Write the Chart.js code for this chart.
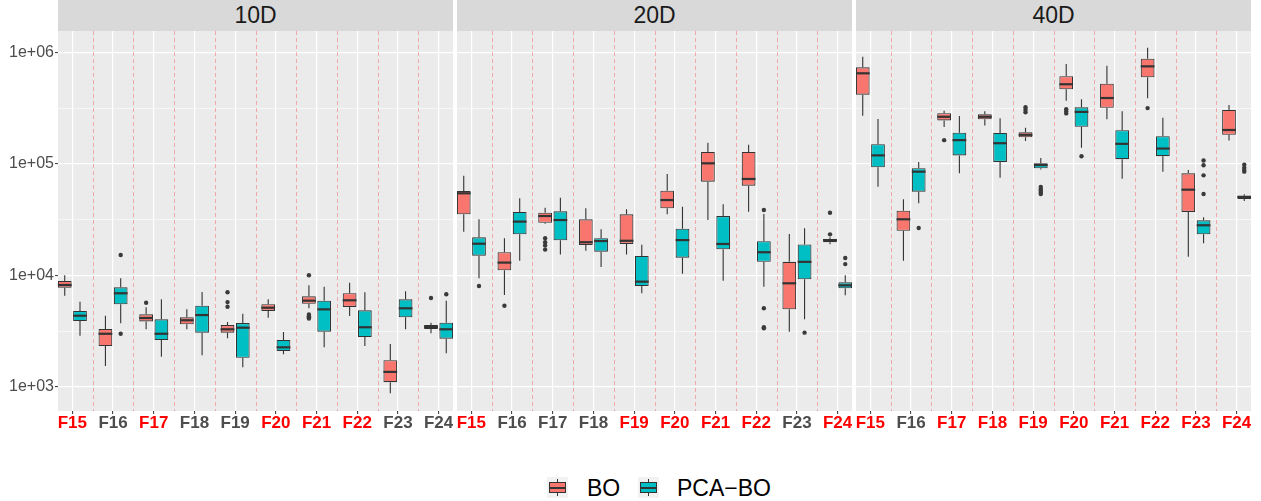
<!DOCTYPE html>
<html><head><meta charset="utf-8">
<script src="https://cdn.jsdelivr.net/npm/chart.js@4/dist/chart.umd.min.js"></script>
<style>
body{margin:0;background:#fff;}
#fig{position:relative;width:1261px;height:501px;overflow:hidden;background:#fff;font-family:"Liberation Sans",Arial,sans-serif;}
.strip{position:absolute;top:0;height:31px;background:#D9D9D9;color:#1A1A1A;font-size:23px;line-height:31px;text-align:center;}
canvas{position:absolute;}
.key{position:absolute;width:21px;height:21px;background:#F2F2F2;}
.key .wh{position:absolute;left:10px;width:1px;top:2px;height:17px;background:#333;}
.key .bx{position:absolute;left:2px;width:15px;top:5px;height:9px;border:1px solid #333;}
.key .md{position:absolute;left:2px;width:17px;top:9.5px;height:2px;background:#333;}
.lab{position:absolute;top:474px;height:28px;line-height:28px;font-size:23px;color:#000;white-space:nowrap;}
</style>
</head>
<body>
<div id="fig">
  <div class="strip" id="s0" style="left:58px;width:395px;"></div>
  <div class="strip" id="s1" style="left:457px;width:395px;"></div>
  <div class="strip" id="s2" style="left:856px;width:395px;"></div>
  <canvas id="c0" width="453" height="400" style="left:0px;top:31px;"></canvas>
  <canvas id="c1" width="395" height="400" style="left:457px;top:31px;"></canvas>
  <canvas id="c2" width="395" height="400" style="left:856px;top:31px;"></canvas>
  <div class="key" style="left:547px;top:477px;"><div class="wh"></div><div class="bx" style="background:#F8766D"></div><div class="md"></div></div>
  <div class="lab" id="l0" style="left:587px;"></div>
  <div class="key" style="left:638px;top:477px;"><div class="wh"></div><div class="bx" style="background:#00BFC4"></div><div class="md"></div></div>
  <div class="lab" id="l1" style="left:677px;"></div>
</div>
<script>
// ---------- data ----------
const categories = ['F15','F16','F17','F18','F19','F20','F21','F22','F23','F24'];
const panelTitles = ['10D','20D','40D'];
const seriesNames = ['BO','PCA\u2212BO'];
const seriesColors = ['#F8766D','#00BFC4'];
const yTickValues = [1e3,1e4,1e5,1e6];
const yTickLabels = ['1e+03','1e+04','1e+05','1e+06'];
const yMinorValues = [3162.28,31622.8,316228];

// label highlight (red) per panel
const highlight10 = [1,0,1,0,0,1,1,1,0,0];
const highlight20 = [1,0,0,0,1,1,1,1,0,1];
const highlight40 = [1,0,1,1,1,1,1,1,1,1];

// box stats: [min whisker, q1, median, q3, max whisker]
const bo10 = [[6560,7740,8190,8890,10000],[1540,2320,2990,3300,4340],[3280,3860,4140,4470,5160],[3280,3640,3950,4200,4950],[2720,3060,3280,3580,3810],[4160,4790,5120,5500,6090],[5060,5560,5920,6480,8130],[4310,5200,5970,6900,8590],[875,1100,1360,1730,2420],[3020,3300,3440,3580,3760]];
const bo10Out = [[],[],[5680],[],[7050,5750,5220],[],[10000,4450,4300,4200,4100],[],[],[6250]];
const pca10 = [[2870,3890,4340,4790,5800],[3710,5500,6900,7800,9400],[1860,2630,2990,4030,6090],[1920,3060,4400,5340,7080],[1500,1820,3390,3730,4530],[1960,2090,2260,2630,3100],[2260,3120,4950,5920,7900],[2320,2790,3420,4850,7050],[3280,4200,5060,6090,7190],[2000,2700,3280,3760,5920]];
const pca10Out = [[],[15200,2990],[],[],[],[],[],[],[],[6760]];

const bo20 = [[24600,35200,54400,57000,78200],[6660,11100,13000,16100,21500],[29000,29600,34000,36400,40400],[16600,18700,19800,31800,39900],[15400,19100,20400,35200,39100],[35200,39900,47300,57400,81100],[31300,69100,101000,127600,154600],[37200,63600,73100,127600,148400],[3120,4950,8480,13200,23500],[19000,19800,20700,21200,21900]];
const bo20Out = [[],[5340],[21500,19800,18500,17000],[],[],[],[],[],[],[36400,23300]];
const pca20 = [[9400,15000,19200,21900,31800],[13500,23300,30300,37000,49100],[15400,20600,31300,37500,49500],[11900,16300,20300,21500,25900],[6900,8020,8770,14900,18800],[10300,14400,20700,26200,41200],[8950,17100,19100,34000,43300],[7900,13200,16100,20200,35500],[4030,9200,13200,18900,26400],[6610,7640,8130,8650,10000]];
const pca20Out = [[8020],[],[],[],[],[],[],[38500,5060,3420,3350],[3060],[14300,12600]];

const bo40 = [[270000,417000,648000,733000,914000],[13500,25100,31800,38000,48000],[214000,245000,264000,284000,299000],[221000,251000,264000,278000,296000],[160000,173000,182000,192000,211000],[368000,466000,517000,610000,785000],[251000,318000,389000,523000,759000],[387000,597000,748000,877000,1100000],[14700,37000,58600,82200,88000],[162000,182000,201000,304000,337000]];
const bo40Out = [[],[],[163000],[],[321000,305000,290000],[309000,295000,283000],[],[316000],[],[]];
const pca40 = [[62300,93000,119000,150000,252000],[44200,56200,85000,91200,104000],[82200,119000,163000,190000,268000],[75000,104000,153000,189000,256000],[89000,91200,97500,101000,113000],[139000,215000,292000,321000,379000],[73500,110000,151000,200000,296000],[85000,117000,137000,177000,259000],[19400,23300,28100,31100,33100],[46400,48300,50500,51800,53200]];
const pca40Out = [[],[26600],[],[],[62000,59000,57000,55000,53500],[117000],[],[],[107000,97000,78800,53600],[98000,92000,88000,85000]];

// ---------- rendering ----------
Chart.defaults.font.family = '"Liberation Sans", Arial, sans-serif';
const Y_MIN = Math.pow(10, 2.783), Y_MAX = Math.pow(10, 6.191);
const LINE = '#333333';

const boxPlugin = {
  id: 'boxDecor',
  beforeDraw(chart) {
    const a = chart.chartArea, ctx = chart.ctx;
    ctx.save(); ctx.fillStyle = '#EBEBEB';
    ctx.fillRect(a.left, a.top, a.right - a.left, a.bottom - a.top);
    ctx.restore();
  },
  beforeDatasetsDraw(chart) {
    const a = chart.chartArea, ctx = chart.ctx, xs = chart.scales.x, ys = chart.scales.y;
    ctx.save();
    ctx.strokeStyle = 'rgba(255,0,0,0.28)'; ctx.lineWidth = 1; ctx.setLineDash([4,3]);
    for (let i = 0; i < categories.length - 1; i++) {
      const px = Math.round(xs.getPixelForValue(i + 0.5)) + 0.5;
      ctx.beginPath(); ctx.moveTo(px, a.top); ctx.lineTo(px, a.bottom); ctx.stroke();
    }
    ctx.setLineDash([]);
    // whiskers
    ctx.strokeStyle = LINE; ctx.lineWidth = 1.1;
    chart.data.datasets.forEach((ds, di) => {
      const meta = chart.getDatasetMeta(di);
      meta.data.forEach((el, i) => {
        const s = ds.stats[i];
        const x = el.x;
        ctx.beginPath();
        ctx.moveTo(x, ys.getPixelForValue(s[4])); ctx.lineTo(x, ys.getPixelForValue(s[3]));
        ctx.moveTo(x, ys.getPixelForValue(s[1])); ctx.lineTo(x, ys.getPixelForValue(s[0]));
        ctx.stroke();
      });
    });
    ctx.restore();
  },
  afterDatasetsDraw(chart) {
    const ctx = chart.ctx, ys = chart.scales.y;
    ctx.save();
    chart.data.datasets.forEach((ds, di) => {
      const meta = chart.getDatasetMeta(di);
      meta.data.forEach((el, i) => {
        const s = ds.stats[i];
        const x = el.x, w = el.width;
        const my = ys.getPixelForValue(s[2]);
        ctx.strokeStyle = LINE; ctx.lineWidth = 2.2;
        ctx.beginPath(); ctx.moveTo(x - w / 2, my); ctx.lineTo(x + w / 2, my); ctx.stroke();
        ctx.fillStyle = '#3a3a3a';
        ds.outliers[i].forEach(v => {
          ctx.beginPath(); ctx.arc(x, ys.getPixelForValue(v), 2.2, 0, Math.PI * 2); ctx.fill();
        });
      });
    });
    ctx.restore();
  }
};

function makePanel(id, boStats, boOut, pcaStats, pcaOut, highlight, showY) {
  const mk = (stats) => stats.map((s, i) => ({ x: i, y: [s[1], s[3]] }));
  new Chart(document.getElementById(id), {
    type: 'bar',
    data: {
      datasets: [
        { label: seriesNames[0], data: mk(boStats), stats: boStats, outliers: boOut,
          backgroundColor: seriesColors[0], borderColor: LINE, borderWidth: 1.1, borderSkipped: false,
          categoryPercentage: 0.75, barPercentage: 0.9 },
        { label: seriesNames[1], data: mk(pcaStats), stats: pcaStats, outliers: pcaOut,
          backgroundColor: seriesColors[1], borderColor: LINE, borderWidth: 1.1, borderSkipped: false,
          categoryPercentage: 0.75, barPercentage: 0.9 }
      ]
    },
    options: {
      responsive: false, animation: false, devicePixelRatio: 1,
      layout: { padding: 0 },
      plugins: { legend: { display: false }, tooltip: { enabled: false }, title: { display: false } },
      scales: {
        x: {
          type: 'linear', min: -0.353, max: 9.353, offset: false,
          afterBuildTicks: s => { s.ticks = categories.map((c, i) => ({ value: i })); },
          afterFit: s => { s.height = 20; s.paddingLeft = 0; s.paddingRight = 0; },
          border: { display: false },
          grid: { offset: false, color: '#FFFFFF', lineWidth: 1.2, drawTicks: true, tickLength: 3, tickColor: LINE, tickWidth: 1 },
          ticks: { autoSkip: false, maxRotation: 0, minRotation: 0, padding: -1,
            font: { size: 17, weight: 'bold' },
            color: ctx => highlight[ctx.index] ? '#FF0000' : '#4D4D4D',
            callback: (v, i) => categories[i] }
        },
        y: {
          type: 'logarithmic', min: Y_MIN, max: Y_MAX,
          afterBuildTicks: s => {
            const t = yTickValues.map(v => ({ value: v, minor: false }))
              .concat(yMinorValues.map(v => ({ value: v, minor: true })));
            t.sort((a, b) => a.value - b.value);
            s.ticks = t;
          },
          afterFit: s => { s.width = showY ? 58 : 0; s.paddingTop = 0; s.paddingBottom = 0; },
          border: { display: false },
          grid: { color: '#FFFFFF',
            lineWidth: ctx => (ctx.tick && ctx.tick.minor) ? 0.6 : 1.2,
            drawTicks: showY, tickLength: 3,
            tickColor: ctx => (ctx.tick && ctx.tick.minor) ? 'rgba(0,0,0,0)' : LINE, tickWidth: 1 },
          ticks: { display: showY, autoSkip: false, padding: 1, font: { size: 16 }, color: '#4D4D4D',
            callback: (v) => { const k = yTickValues.indexOf(v); return k >= 0 ? yTickLabels[k] : ''; } }
        }
      }
    },
    plugins: [boxPlugin]
  });
}

panelTitles.forEach((t, i) => { document.getElementById('s' + i).textContent = t; });
document.getElementById('l0').textContent = seriesNames[0];
document.getElementById('l1').textContent = seriesNames[1];

makePanel('c0', bo10, bo10Out, pca10, pca10Out, highlight10, true);
makePanel('c1', bo20, bo20Out, pca20, pca20Out, highlight20, false);
makePanel('c2', bo40, bo40Out, pca40, pca40Out, highlight40, false);
</script>
</body></html>
